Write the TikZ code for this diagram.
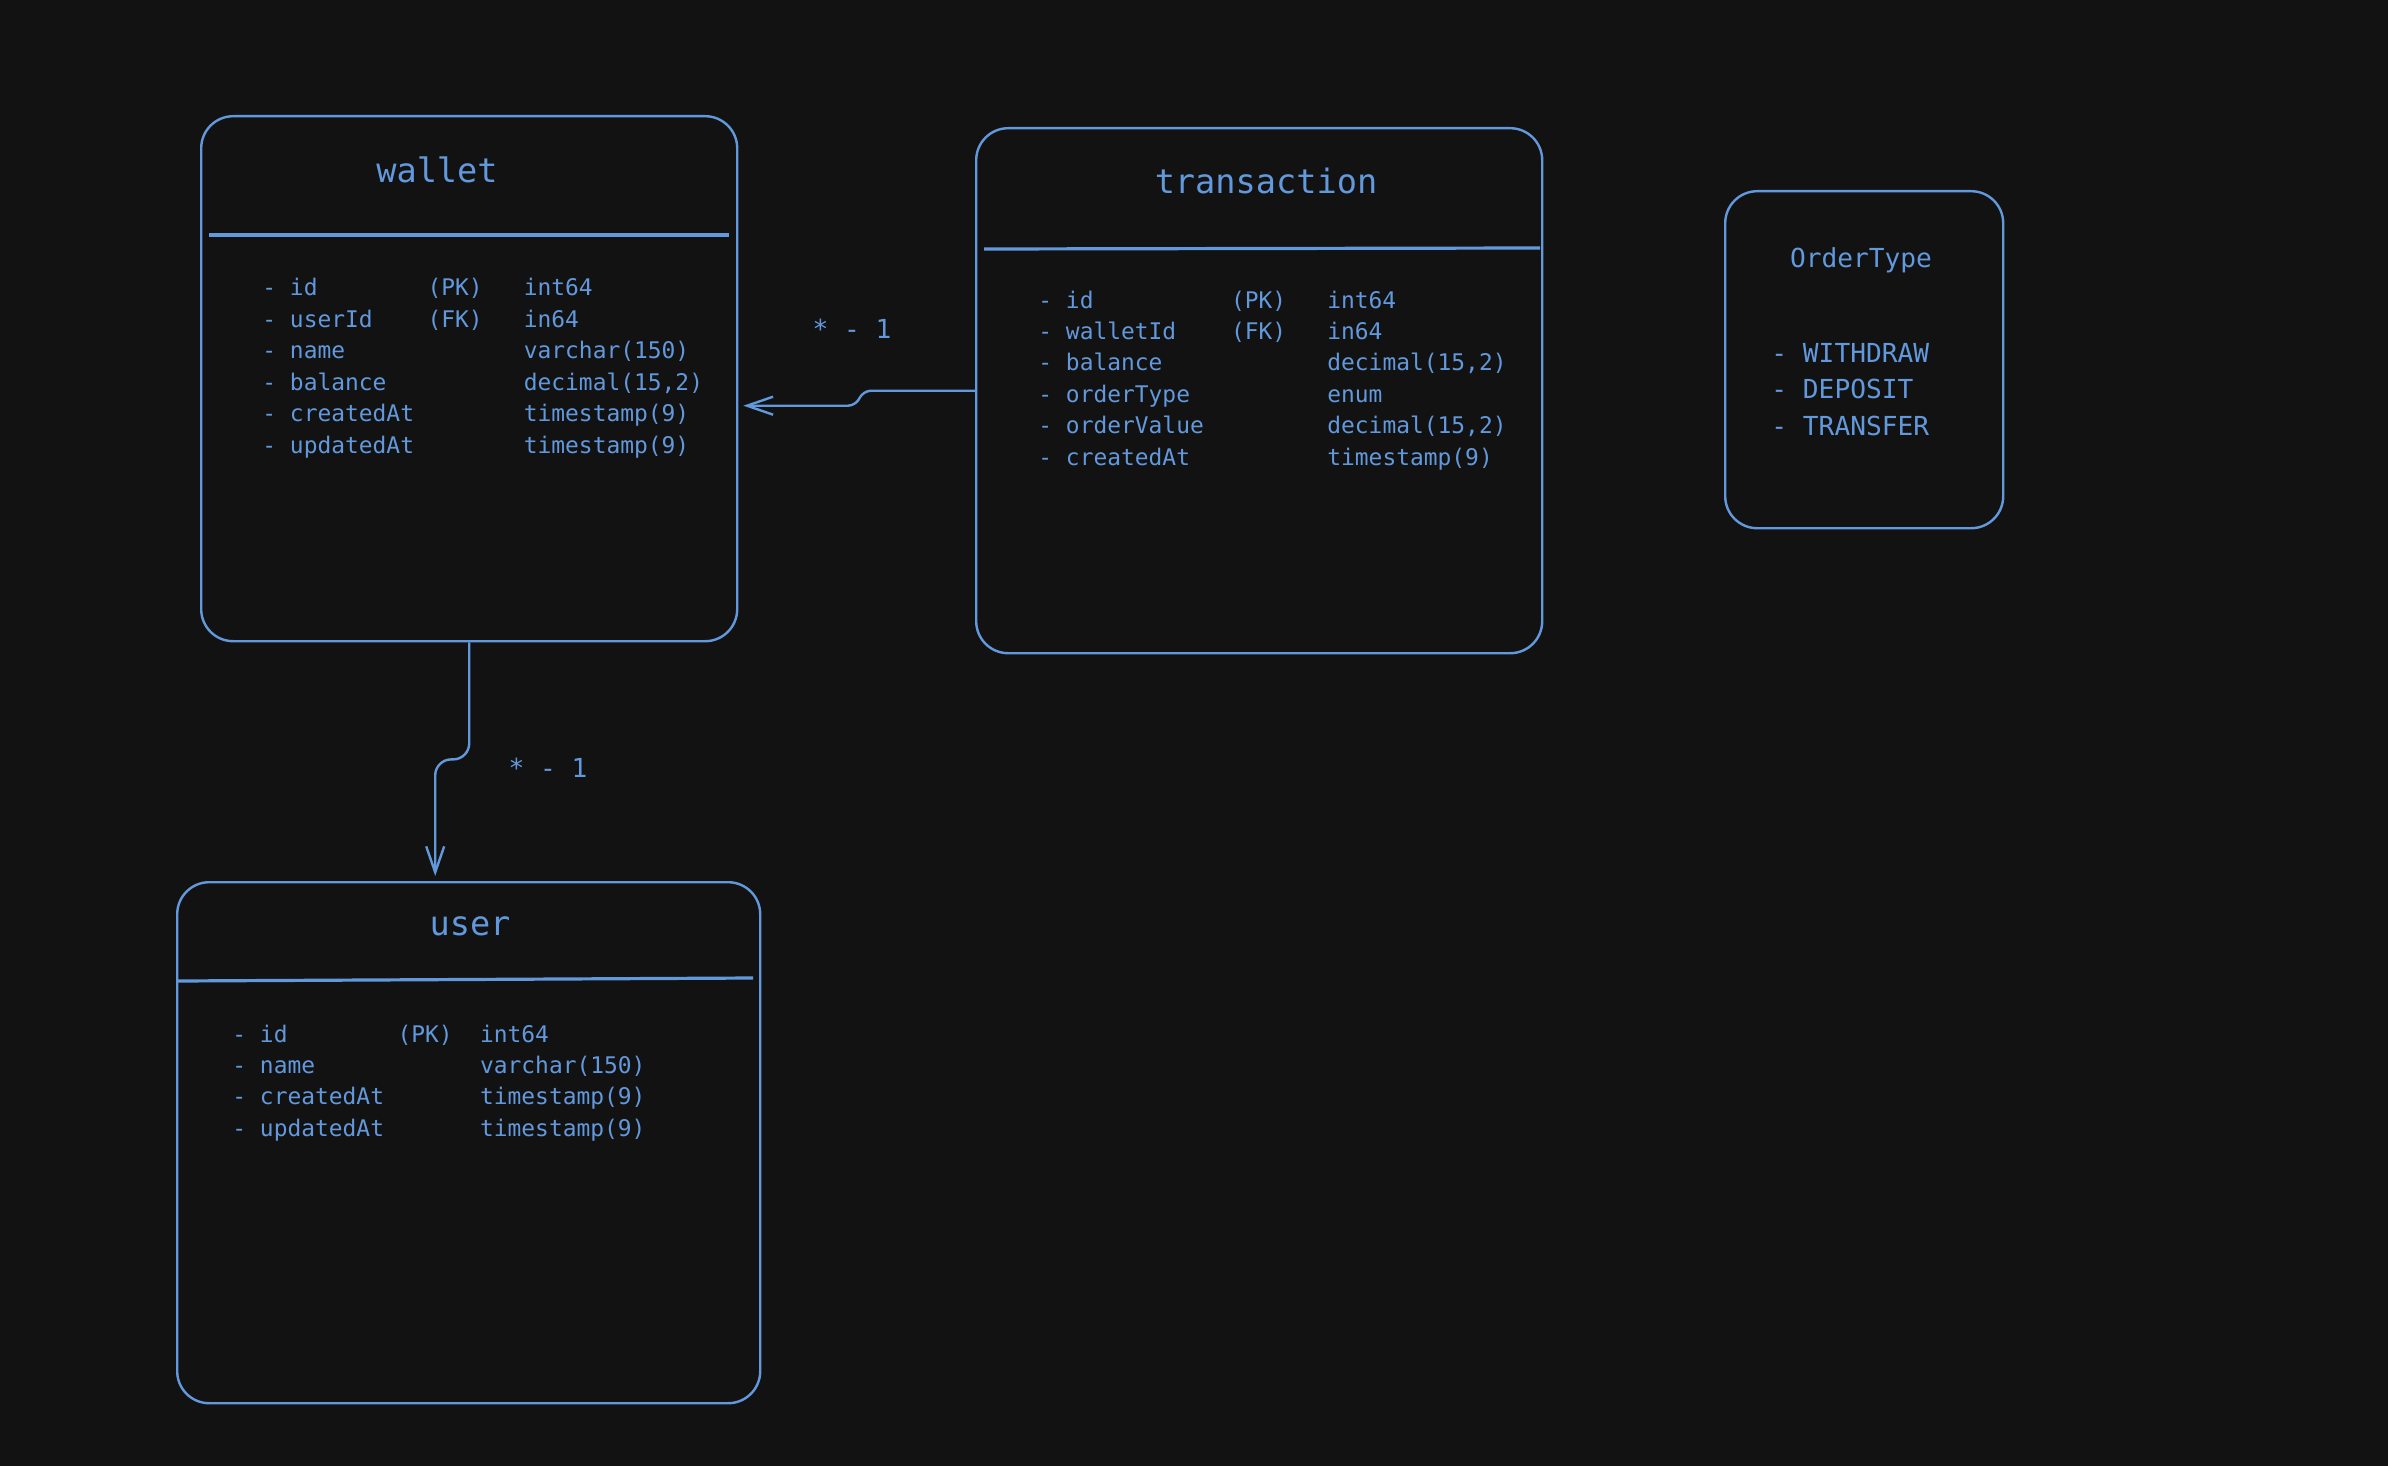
\documentclass[tikz,border=0pt]{standalone}
\usepackage{fontspec}
\setmonofont{DejaVu Sans Mono}
\usetikzlibrary{arrows.meta}

\definecolor{erBlue}{RGB}{98,152,220}
\definecolor{erBack}{RGB}{18,18,18}
\def\cB{erBlue}
\def\cK{erBack}

% width of one monospace cell
\newdimen\cw \cw=6.88pt

\tikzstyle{tbl} = [draw=\cB, rectangle, anchor=north west,
                   rounded corners=16pt, line width=1.2pt, inner sep=0mm]
\tikzstyle{ttl} = [\cB, anchor=base, inner sep=0mm,
                   font=\fontsize{16.8}{20}\selectfont\ttfamily]
\tikzstyle{field} = [\cB, anchor=base west, inner sep=0mm,
                   font=\fontsize{11.45}{15.7}\selectfont\ttfamily]
\tikzstyle{enumval} = [\cB, anchor=base west, inner sep=0mm,
                   font=\fontsize{13.1}{18.25}\selectfont\ttfamily]
\tikzstyle{mult} = [\cB, anchor=base, inner sep=0mm,
                   font=\fontsize{13.1}{16}\selectfont\ttfamily]
\tikzstyle{link} = [draw=\cB, line width=1.2pt, rounded corners=4pt]

\begin{document}
\begin{tikzpicture}[x=0.5pt,y=-0.5pt,>={Straight Barb[length=13pt,width=9pt]}]

\fill[\cK] (0,0) rectangle (2388,1466);

% wallet
\node[tbl,minimum width=268pt,minimum height=262.5pt]
     at (200,115)
     (wallet) {};
\draw[\cB,line width=1.6pt] (wallet.north west) ++(9,120) -- ++(520,0);
\node[ttl] at (437,183) (wTitle) {wallet};
\node[field] at (262,296) (wFields)
     {\begin{tabular}[t]{@{}p{12\cw}@{}p{7\cw}@{}l@{}}
      - id & (PK) & int64\\
      - userId & (FK) & in64\\
      - name & & varchar(150)\\
      - balance & & decimal(15,2)\\
      - createdAt & & timestamp(9)\\
      - updatedAt & & timestamp(9)
      \end{tabular}};

% transaction
\node[tbl,minimum width=283pt,minimum height=262.5pt]
     at (975,127)
     (transaction) {};
\draw[\cB,line width=1.6pt] (transaction.north west) ++(9,122) -- ++(556,-1);
\node[ttl] at (1266,194) (tTitle) {transaction};
\node[field] at (1038,308) (tFields)
     {\begin{tabular}[t]{@{}p{14\cw}@{}p{7\cw}@{}l@{}}
      - id & (PK) & int64\\
      - walletId & (FK) & in64\\
      - balance & & decimal(15,2)\\
      - orderType & & enum\\
      - orderValue & & decimal(15,2)\\
      - createdAt & & timestamp(9)
      \end{tabular}};

% OrderType
\node[tbl,minimum width=139pt,minimum height=168.5pt]
     at (1724,190)
     (orderType) {};
\node[mult] at (1861,268) (oTitle) {OrderType};
\node[enumval] at (1771,362) (oValues)
     {\begin{tabular}[t]{@{}l@{}}
      - WITHDRAW\\
      - DEPOSIT\\
      - TRANSFER
      \end{tabular}};

% user
\node[tbl,minimum width=291.5pt,minimum height=260.5pt]
     at (176,881)
     (user) {};
\draw[\cB,line width=1.6pt] (user.north west) ++(2,100) -- ++(575,-3);
\node[ttl] at (470,935) (uTitle) {user};
\node[field] at (232,1042) (uFields)
     {\begin{tabular}[t]{@{}p{12\cw}@{}p{6\cw}@{}l@{}}
      - id & (PK) & int64\\
      - name & & varchar(150)\\
      - createdAt & & timestamp(9)\\
      - updatedAt & & timestamp(9)
      \end{tabular}};

% relations
\draw[link,->] (transaction.west)
     -- ++(-112,0) -- ++(-7,15)
     -- ([xshift=2.5pt,yshift=-13.5pt]wallet.east);
\node[mult] at (852,338) (mTW) {* - 1};

\draw[link,->,rounded corners=8pt] (wallet.south)
     -- ++(0,117)
     -| ([xshift=-16.75pt,yshift=2.5pt]user.north);
\node[mult] at (548,777) (mWU) {* - 1};

\end{tikzpicture}
\end{document}
